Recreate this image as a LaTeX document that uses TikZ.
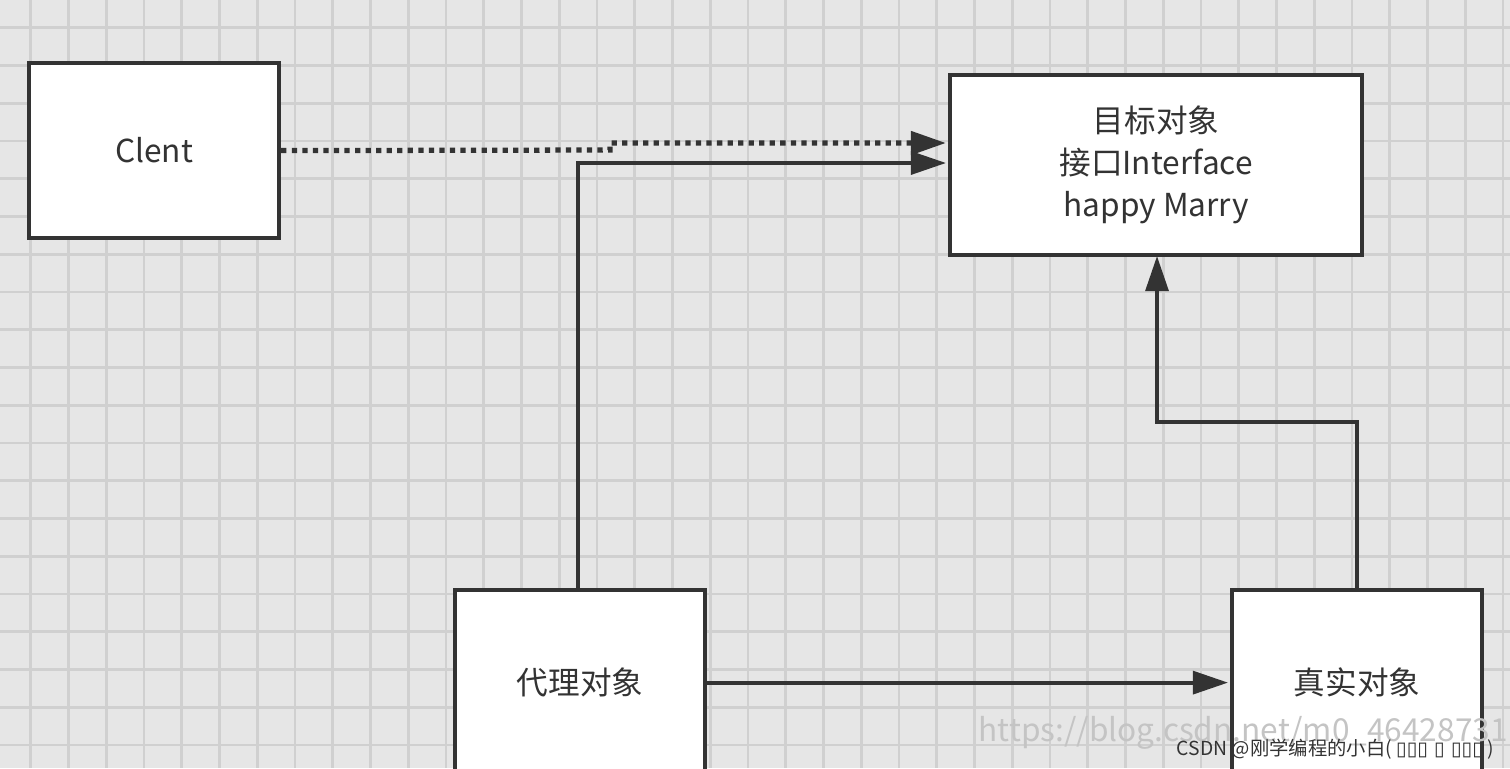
\documentclass[tikz,border=0pt]{standalone}
\usepackage{fontspec}
\setmainfont{Noto Sans CJK SC}
\newfontfamily\symfont{DejaVu Sans}
\usetikzlibrary{arrows.meta}
\definecolor{bg}{HTML}{E6E6E6}
\definecolor{gl}{HTML}{D0D0D0}
\definecolor{ln}{HTML}{333333}
\definecolor{wm}{HTML}{C4C4C4}
\tikzset{
  box/.style={draw=ln, line width=2.4pt, fill=white, anchor=north west, inner sep=0pt, align=center, text=ln, font=\fontsize{18}{24}\selectfont},
  conn/.style={draw=ln, line width=2.2pt, -{Triangle[length=20pt,width=13pt]}},
}
\begin{document}
\begin{tikzpicture}[x=0.02cm,y=-0.02cm]
\useasboundingbox (0,0) rectangle (1510,768);
\fill[bg] (0,0) rectangle (1510,768);
\foreach \i in {-1,...,40} {\draw[gl,line width=1.6pt] ({\i*37.75+30.75},0) -- ({\i*37.75+30.75},768);}
\foreach \j in {-1,...,21} {\draw[gl,line width=1.6pt] (0,{\j*37.75+27.75}) -- (1510,{\j*37.75+27.75});}
\node[box, minimum width=250*0.02cm, minimum height=175*0.02cm] (c) at (27,61) {Clent};
\node[box, minimum width=412*0.02cm, minimum height=180*0.02cm] (t) at (948,73) {目标对象\\接口Interface\\happy Marry};
\node[box, minimum width=250*0.02cm, minimum height=185*0.02cm] (p) at (453,588) {代理对象};
\node[box, minimum width=250*0.02cm, minimum height=185*0.02cm] (r) at (1230,588) {真实对象};
\coordinate (d1) at (610,150);
\coordinate (d2) at (610,143);
\coordinate (tt) at (946,143);
\draw[conn, line width=3pt, dash pattern=on 3pt off 3pt] (c.east) -- (d1) -- (d2) -- (tt);
\coordinate (a1) at (578,588);
\coordinate (a2) at (578,163);
\coordinate (tb) at (946,163);
\draw[conn] (a1) -- (a2) -- (tb);
\draw[conn] (p.east) -- ([xshift=-2*0.02cm]r.west);
\coordinate (b1) at (1357,588);
\coordinate (b2) at (1357,422);
\coordinate (b3) at (1157,422);
\coordinate (tc) at (1157,256);
\draw[conn] (b1) -- (b2) -- (b3) -- (tc);
\node[anchor=east, font=\fontsize{18}{20}\selectfont, text=wm, inner sep=0pt] (w) at (1508,733) {https://blog.csdn.net/m0\_46428731};
\node[anchor=east, font=\fontsize{11}{13}\selectfont, text=ln] (w2) at (1500,749) {CSDN @刚学编程的小白( {\symfont ▯▯▯ ▯ ▯▯▯} )};
\end{tikzpicture}
\end{document}
